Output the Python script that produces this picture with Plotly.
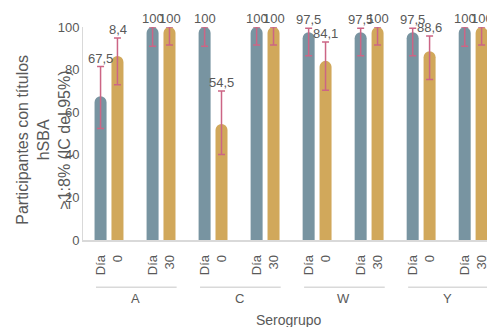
import plotly.graph_objects as go

categories = ["A|Día 0", "A|Día 30", "C|Día 0", "C|Día 30", "W|Día 0", "W|Día 30", "Y|Día 0", "Y|Día 30"]
tick_labels = ["Día<br>0", "Día<br>30", "Día<br>0", "Día<br>30", "Día<br>0", "Día<br>30", "Día<br>0", "Día<br>30"]
groups = ["A", "C", "W", "Y"]

s1_values = [67.5, 100, 100, 100, 97.5, 97.5, 97.5, 100]
s1_lower = [52.3, 91.0, 91.0, 91.5, 86.5, 86.5, 86.5, 91.0]
s1_upper = [81.4, 100, 100, 100, 99.4, 99.4, 99.4, 100]
s1_labels = ["67,5", "100", "100", "100", "97,5", "97,5", "97,5", "100"]

s2_values = [86.4, 100, 54.5, 100, 84.1, 100, 88.6, 100]
s2_lower = [72.9, 91.5, 40.1, 91.5, 70.3, 91.5, 75.3, 91.5]
s2_upper = [94.8, 100, 70.0, 100, 93.0, 100, 95.8, 100]
s2_labels = ["8,4", "100", "54,5", "100", "84,1", "100", "88,6", "100"]

BLUE = "#7894a1"
TAN = "#d1a85b"
ERR = "#cc6585"
TXT = "#595959"
FONT = "Liberation Sans, Arial, sans-serif"

fig = go.Figure()
for vals, lo, hi, col in [(s1_values, s1_lower, s1_upper, BLUE), (s2_values, s2_lower, s2_upper, TAN)]:
    fig.add_trace(go.Bar(
        x=categories, y=vals, marker=dict(color=col, line=dict(width=0)),
        error_y=dict(type="data", symmetric=False,
                     array=[h - v for h, v in zip(hi, vals)],
                     arrayminus=[v - l for v, l in zip(vals, lo)],
                     color=ERR, thickness=1.5, width=3.5),
        showlegend=False, hoverinfo="skip"))

# data labels above the error bars
for labels, hi, shift in [(s1_labels, s1_upper, -8.5), (s2_labels, s2_upper, 8.5)]:
    for c, t, h in zip(categories, labels, hi):
        fig.add_annotation(x=c, y=h, xref="x", yref="y", text=t, showarrow=False,
                           yanchor="bottom", xshift=shift, yshift=-1,
                           font=dict(family=FONT, size=13, color=TXT))

# group underlines and labels
for g, name in enumerate(groups):
    fig.add_shape(type="line", xref="x", yref="paper", x0=2 * g - 0.25, x1=2 * g + 1.3,
                  y0=-0.222, y1=-0.222, line=dict(color="#d9d9d9", width=1.5))
    fig.add_annotation(x=2 * g + 0.5, y=-0.275, xref="x", yref="paper", text=name,
                       showarrow=False, yanchor="middle",
                       font=dict(family=FONT, size=13, color=TXT))

fig.add_annotation(x=0.5, y=-0.375, xref="paper", yref="paper", text="Serogrupo",
                   showarrow=False, yanchor="middle",
                   font=dict(family=FONT, size=14, color=TXT))

fig.add_annotation(x=-0.095, y=0.47, xref="paper", yref="paper",
                   text="Participantes con títulos<br>hSBA<br>≥1:8% (IC del 95%)",
                   textangle=-90, showarrow=False, xanchor="center", yanchor="middle",
                   font=dict(family=FONT, size=16, color=TXT))

fig.update_layout(
    width=487, height=319,
    margin=dict(l=75, r=0, t=19, b=87),
    paper_bgcolor="white", plot_bgcolor="white",
    barmode="group", bargap=0.35, bargroupgap=0.29, barcornerradius=6,
    font=dict(family=FONT, color=TXT),
)
fig.update_xaxes(type="category", range=[-0.5, 7.42], tickvals=categories, ticktext=tick_labels,
                 tickangle=-90, showline=True, linecolor="#d9d9d9", linewidth=1.5,
                 showgrid=False, ticks="", ticklabelstandoff=8,
                 tickfont=dict(family=FONT, size=13, color=TXT))
fig.update_yaxes(range=[0, 100], tickvals=[0, 20, 40, 60, 80, 100], showline=True,
                 linecolor="#d9d9d9", linewidth=1, showgrid=False, zeroline=False, ticks="",
                 tickfont=dict(family=FONT, size=13, color=TXT))

fig.write_html("out.html")
